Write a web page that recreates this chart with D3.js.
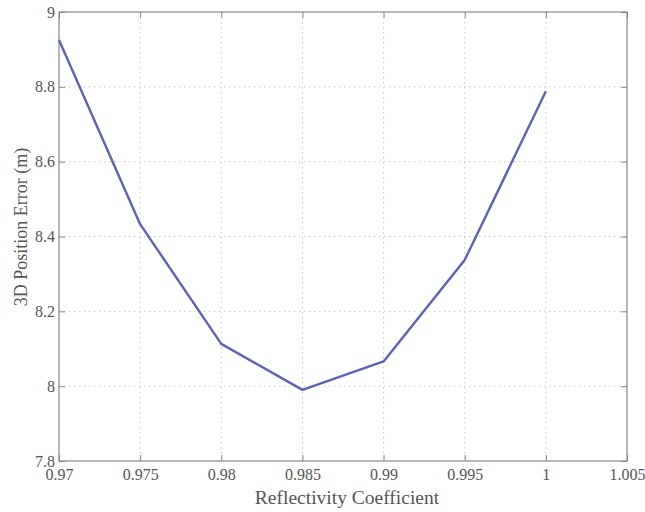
<!DOCTYPE html>
<html>
<head>
<meta charset="utf-8">
<script src="https://d3js.org/d3.v7.min.js"></script>
<style>
body { margin: 0; background: #fff; }
text { font-family: "Liberation Serif", "DejaVu Serif", serif; }
</style>
</head>
<body>
<svg></svg>
<script>
'use strict'

let coeffs = [0.97, 0.975, 0.98, 0.985, 0.99, 0.995, 1],
	errors = [8.925, 8.433, 8.113, 7.99, 8.066, 8.337, 8.788],
	x_ticks = [0.97, 0.975, 0.98, 0.985, 0.99, 0.995, 1, 1.005],
	y_ticks = [7.8, 8, 8.2, 8.4, 8.6, 8.8, 9]

let serif = '"Liberation Serif", "DejaVu Serif", serif',
	margin = {top: 12, right: 18, bottom: 51, left: 59},
	width = 645 - margin.left - margin.right,
	height = 512 - margin.top - margin.bottom,
	x = d3.scaleLinear().domain([0.97, 1.005]).range([0, width]),
	y = d3.scaleLinear().domain([7.8, 9]).range([height, 0]),
	fmt = d => String(+d.toFixed(3))

let vis = d3.select('svg').attr('width', 645).attr('height', 512)
	.append('g').attr('transform', `translate(${margin.left} ${margin.top})`)

// grid
vis.append('g').call(s => {
	s.selectAll('line.gx').data(x_ticks.slice(1, -1)).join('line')
		.attr('x1', d => x(d)).attr('x2', d => x(d)).attr('y1', 0).attr('y2', height)
	s.selectAll('line.gy').data(y_ticks.slice(1, -1)).join('line')
		.attr('y1', d => y(d)).attr('y2', d => y(d)).attr('x1', 0).attr('x2', width) })
	.selectAll('line').attr('stroke', '#c8c8c8').attr('stroke-dasharray', '1.5,3.5')

// axes with inward ticks, on all sides
let axis_style = s => {
	s.attr('font-family', serif)
	s.select('.domain').remove()
	s.selectAll('line').attr('stroke', '#888')
	s.selectAll('text').attr('fill', '#555').style('font-size', '16px') }

vis.append('g').attr('transform', `translate(0 ${height})`)
	.call(d3.axisBottom(x).tickValues(x_ticks).tickFormat(fmt).tickSizeInner(-6).tickPadding(8))
	.call(axis_style)
vis.append('g')
	.call(d3.axisTop(x).tickValues(x_ticks).tickFormat('').tickSizeInner(-6))
	.call(axis_style)
vis.append('g')
	.call(d3.axisLeft(y).tickValues(y_ticks).tickFormat(fmt).tickSizeInner(-6).tickPadding(4))
	.call(axis_style)
vis.append('g').attr('transform', `translate(${width} 0)`)
	.call(d3.axisRight(y).tickValues(y_ticks).tickFormat('').tickSizeInner(-6))
	.call(axis_style)

vis.append('rect').attr('width', width).attr('height', height)
	.attr('fill', 'none').attr('stroke', '#888').attr('stroke-width', 1.2)

vis.append('path').datum(d3.zip(coeffs, errors))
	.attr('fill', 'none').attr('stroke', '#5b63b5').attr('stroke-width', 2.4)
	.attr('stroke-linejoin', 'round')
	.attr('d', d3.line().x(d => x(d[0])).y(d => y(d[1])))

vis.append('text').attr('x', 347 - margin.left).attr('y', height + 43)
	.attr('text-anchor', 'middle').attr('fill', '#555').style('font-size', '19.5px')
	.text('Reflectivity Coefficient')
vis.append('text').attr('transform', `translate(-32 ${227 - margin.top}) rotate(-90)`)
	.attr('text-anchor', 'middle').attr('fill', '#555').style('font-size', '18px')
	.text('3D Position Error (m)')
</script>
</body>
</html>
